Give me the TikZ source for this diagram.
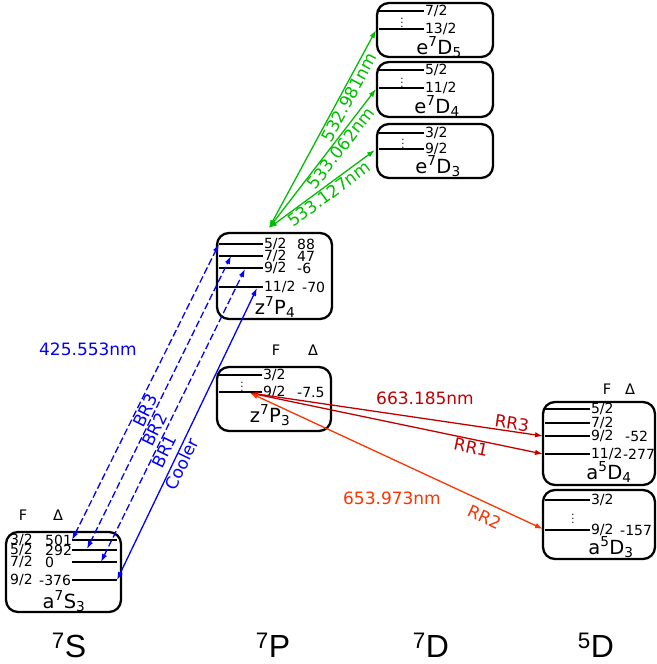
\documentclass[tikz,border=0pt]{standalone}
\usepackage{fontspec}
\setmainfont{DejaVu Sans}
\newfontfamily\conffont{Liberation Sans}
\usetikzlibrary{positioning,arrows.meta}
\definecolor{brblue}{RGB}{0,0,255}
\definecolor{dgreen}{RGB}{0,190,0}
\definecolor{rrred}{RGB}{192,0,0}
\definecolor{rrorange}{RGB}{255,51,0}
\newcommand{\st}[4]{#1\textsuperscript{#2}#3\textsubscript{#4}}
\newcommand{\fs}[1]{\fontsize{#1}{#1}\selectfont}

\begin{document}
\begin{tikzpicture}[x=1pt,y=-1pt,
  box/.style={draw,line width=2.3pt,rounded corners=12pt},
  lvl/.style={line width=2pt},
  lab/.style={font=\fs{14},inner sep=0pt,anchor=west},
  hdr/.style={font=\fs{14.5},inner sep=0pt},
  term/.style={font=\fs{19.5},inner sep=0pt},
  conf/.style={font=\conffont\fs{32},inner sep=0pt},
  wl/.style={font=\fs{17},inner sep=1pt},
  dots/.style={font=\fs{10},inner sep=0pt},
  tr/.style={line width=1.3pt,{Latex[length=8pt,width=5.5pt]}-{Latex[length=8pt,width=5.5pt]}},
  br/.style={tr,brblue,dash pattern=on 7pt off 3pt}]
\useasboundingbox (0,0) rectangle (656,664);

% e7D levels
\draw[box] (377,3) rectangle (493,57);
\draw[lvl] (379,11) -- (424,11) node[lab] (d5f1) {7/2};
\draw[lvl] (379,29) -- (424,29) node[lab] (d5f2) {13/2};
\node[dots] (d5dots) at (402,20) {$\vdots$};
\node[term] (e7d5) at (439,47) {\st{e}{7}{D}{5}};

\draw[box] (377,62) rectangle (493,117);
\draw[lvl] (379,70) -- (424,70) node[lab] (d4f1) {5/2};
\draw[lvl] (379,88) -- (424,88) node[lab] (d4f2) {11/2};
\node[dots] (d4dots) at (402,80) {$\vdots$};
\node[term] (e7d4) at (437,106) {\st{e}{7}{D}{4}};

\draw[box] (377,124) rectangle (493,178);
\draw[lvl] (379,133) -- (424,133) node[lab] (d3f1) {3/2};
\draw[lvl] (379,149) -- (424,149) node[lab] (d3f2) {9/2};
\node[dots] (d3dots) at (403,141) {$\vdots$};
\node[term] (e7d3) at (438,166) {\st{e}{7}{D}{3}};

% z7P4
\draw[box] (217,233) rectangle (332,319);
\draw[lvl] (219,244) -- (263,244) node[lab] (p4f5) {5/2};
\draw[lvl] (219,256) -- (263,256) node[lab] (p4f7) {7/2};
\draw[lvl] (219,268) -- (263,268) node[lab] (p4f9) {9/2};
\draw[lvl] (219,287) -- (263,287) node[lab] (p4f11) {11/2};
\node[lab] (p4d5) at (297,244) {88};
\node[lab] (p4d7) at (297,256) {47};
\node[lab] (p4d9) at (297,268) {-6};
\node[lab] (p4d11) at (302,287) {-70};
\node[term] (z7p4) at (275,307) {\st{z}{7}{P}{4}};

% z7P3
\node[hdr] (p3hf) at (276,350) {F};
\node[hdr] (p3hd) at (313,350) {Δ};
\draw[box] (217,367) rectangle (331,431);
\draw[lvl] (219,375) -- (262,375) node[lab] (p3f3) {3/2};
\draw[lvl] (219,392) -- (262,392) node[lab] (p3f9) {9/2};
\node[lab] (p3d9) at (297,392) {-7.5};
\node[dots] (p3dots) at (242,384) {$\vdots$};
\node[term] (z7p3) at (270,415) {\st{z}{7}{P}{3}};

% a7S3
\node[hdr] (s3hf) at (23,515) {F};
\node[hdr] (s3hd) at (58,515) {Δ};
\draw[box] (6,532) rectangle (121,612);
\draw[lvl] (72,540) -- (117,540);
\draw[lvl] (72,550) -- (117,550);
\draw[lvl] (72,562) -- (117,562);
\draw[lvl] (72,580) -- (117,580);
\node[lab] (s3f3) at (10,540) {3/2};
\node[lab] (s3f5) at (10,550) {5/2};
\node[lab] (s3f7) at (10,562) {7/2};
\node[lab] (s3f9) at (10,580) {9/2};
\node[lab] (s3d3) at (45,540) {501};
\node[lab] (s3d5) at (45,550) {292};
\node[lab] (s3d7) at (45,562) {0};
\node[lab] (s3d9) at (39,580) {-376};
\node[term] (a7s3) at (64,601) {\st{a}{7}{S}{3}};

% a5D4
\node[hdr] (q4hf) at (607,389) {F};
\node[hdr] (q4hd) at (630,389) {Δ};
\draw[box] (543,402) rectangle (655,485);
\draw[lvl] (545,409) -- (590,409) node[lab] (q4f5) {5/2};
\draw[lvl] (545,423) -- (590,423) node[lab] (q4f7) {7/2};
\draw[lvl] (545,436) -- (590,436) node[lab] (q4f9) {9/2};
\draw[lvl] (545,454) -- (590,454) node[lab] (q4f11) {11/2};
\node[lab] (q4d9) at (625,436) {-52};
\node[lab,right=-0.5pt of q4f11] (q4d11) {-277};
\node[term] (a5d4) at (609,472) {\st{a}{5}{D}{4}};

% a5D3
\draw[box] (543,490) rectangle (655,559);
\draw[lvl] (545,500) -- (590,500) node[lab] (q3f3) {3/2};
\draw[lvl] (545,530) -- (590,530) node[lab] (q3f9) {9/2};
\node[lab] (q3d9) at (620,530) {-157};
\node[dots] (q3dots) at (573,516) {$\vdots$};
\node[term] (a5d3) at (611,547) {\st{a}{5}{D}{3}};

% configurations
\node[conf] (c7s) at (69,645) {\textsuperscript{7}S};
\node[conf] (c7p) at (273,645) {\textsuperscript{7}P};
\node[conf] (c7d) at (431,645) {\textsuperscript{7}D};
\node[conf] (c5d) at (596,645) {\textsuperscript{5}D};

% transition ends
\coordinate (p4top) at (269,228);
\coordinate (d5) at (376,30);
\coordinate (d4) at (376,89);
\coordinate (d3) at (375,150);
\coordinate (s3a) at (72,540);
\coordinate (s5a) at (87,549);
\coordinate (s7a) at (101,562);
\coordinate (s9a) at (117,580);
\coordinate (p5a) at (219,244);
\coordinate (p7a) at (231,256);
\coordinate (p9a) at (245,269);
\coordinate (p11a) at (257,288);
\coordinate (p3x) at (250,393);
\coordinate (q4n) at (543,436);
\coordinate (q4e) at (543,454);
\coordinate (q3n) at (543,529);

\draw[tr,dgreen] (p4top) -- node[wl,sloped,below,pos=.68] (g1) {532.981nm} (d5);
\draw[tr,dgreen] (p4top) -- node[wl,sloped,below,pos=.61] (g2) {533.062nm} (d4);
\draw[tr,dgreen] (p4top) -- node[wl,sloped,below,pos=.52] (g3) {533.127nm} (d3);

\draw[br] (s3a) -- node[wl,sloped,below,pos=.45] (br3) {BR3} (p5a);
\draw[br] (s5a) -- node[wl,sloped,below,pos=.42] (br2) {BR2} (p7a);
\draw[br] (s7a) -- node[wl,sloped,below,pos=.39] (br1) {BR1} (p9a);
\draw[tr,brblue] (s9a) -- node[wl,sloped,below,pos=.41] (cool) {Cooler} (p11a);
\node[wl,brblue] (l425) at (88,349) {425.553nm};

\draw[tr,rrred] (p3x) -- node[wl,sloped,above,pos=.89] (rr3) {RR3} (q4n);
\draw[tr,rrred] (p3x) -- node[wl,sloped,below,pos=.76] (rr1) {RR1} (q4e);
\draw[tr,rrorange] (p3x) -- node[wl,sloped,below=6pt,pos=.82] (rr2) {RR2} (q3n);
\node[wl,rrred] (l663) at (425,398) {663.185nm};
\node[wl,rrorange] (l653) at (392,498) {653.973nm};
\end{tikzpicture}
\end{document}
